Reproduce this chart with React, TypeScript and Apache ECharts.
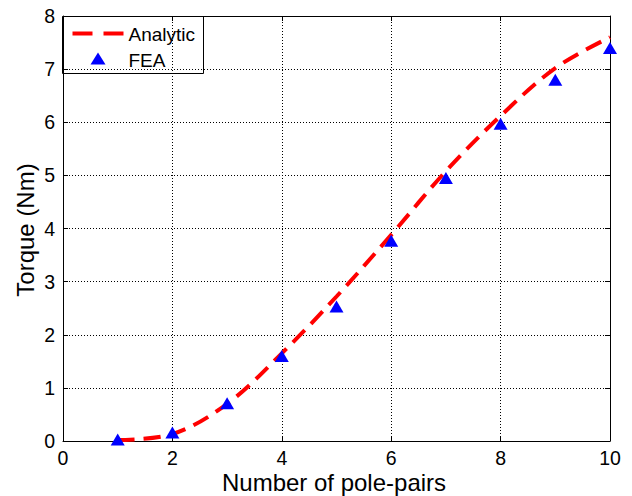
import React, { useEffect, useRef } from "react";
import * as echarts from "echarts";

// Number of pole-pairs
const polePairs = [1, 2, 3, 4, 5, 6, 7, 8, 9, 10];
// Analytic torque prediction (Nm)
const analyticTorque = [0.02, 0.13, 0.7, 1.65, 2.72, 3.88, 5.08, 6.12, 7.02, 7.6];
// Finite element results (Nm)
const feaTorque = [0.03, 0.16, 0.71, 1.6, 2.53, 3.77, 4.95, 5.97, 6.8, 7.4];

const legendNames = ["Analytic", "FEA"];
const xTitle = "Number of pole-pairs";
const yTitle = "Torque (Nm)";

const FONT = "Liberation Sans, Arial, sans-serif";

export default function App() {
  const ref = useRef<HTMLDivElement>(null);

  useEffect(() => {
    if (!ref.current) return;
    const chart = echarts.init(ref.current, null, { renderer: "svg" });

    const gridLine = { show: true, lineStyle: { color: "#000", type: [1, 2] as any, width: 1 } };
    const tickLabel = { color: "#000", fontFamily: FONT, fontSize: 19.5 };
    const frameAxis = {
      axisLine: { show: true, onZero: false, lineStyle: { color: "#000", width: 1 } },
      axisTick: { show: true, inside: true, length: 5, lineStyle: { color: "#000" } },
    };

    chart.setOption({
      animation: false,
      backgroundColor: "#fff",
      grid: {
        left: 63,
        right: 22,
        top: 16,
        bottom: 55,
        containLabel: false,
        outerBoundsMode: "none",
      },
      xAxis: [
        {
          type: "value",
          min: 0,
          max: 10,
          interval: 2,
          ...frameAxis,
          axisLabel: { ...tickLabel, margin: 7 },
          splitLine: gridLine,
        },
        {
          type: "value",
          position: "top",
          min: 0,
          max: 10,
          interval: 2,
          ...frameAxis,
          axisLabel: { show: false },
          splitLine: { show: false },
        },
      ],
      yAxis: [
        {
          type: "value",
          min: 0,
          max: 8,
          interval: 1,
          ...frameAxis,
          axisLabel: { ...tickLabel, margin: 8 },
          splitLine: gridLine,
        },
        {
          type: "value",
          position: "right",
          min: 0,
          max: 8,
          interval: 1,
          ...frameAxis,
          axisLabel: { show: false },
          splitLine: { show: false },
        },
      ],
      graphic: [
        // Horizontal axis title
        {
          type: "text",
          x: 334,
          y: 482,
          style: {
            text: xTitle,
            fill: "#000",
            font: `24px ${FONT}`,
            align: "center",
            verticalAlign: "middle",
          },
        },
        // Vertical axis title
        {
          type: "text",
          x: 25,
          y: 230,
          rotation: Math.PI / 2,
          style: {
            text: yTitle,
            fill: "#000",
            font: `24px ${FONT}`,
            align: "center",
            verticalAlign: "middle",
          },
        },
        // Boxed legend in the top-left corner of the plot
        {
          type: "group",
          left: 62,
          top: 16,
          z: 100,
          children: [
            {
              type: "rect",
              shape: { x: 0, y: 0, width: 141, height: 57 },
              style: { fill: "#fff", stroke: "#000", lineWidth: 1 },
            },
            {
              type: "line",
              shape: { x1: 10, y1: 17, x2: 61, y2: 17 },
              style: { stroke: "#ff0000", lineWidth: 4, lineDash: [20, 11] },
            },
            {
              type: "text",
              style: {
                x: 66,
                y: 18,
                text: legendNames[0],
                fill: "#000",
                font: `19px ${FONT}`,
                verticalAlign: "middle",
              },
            },
            {
              type: "polygon",
              shape: { points: [[35.5, 36], [28, 48], [43, 48]] },
              style: { fill: "#0000ff" },
            },
            {
              type: "text",
              style: {
                x: 66,
                y: 44,
                text: legendNames[1],
                fill: "#000",
                font: `19px ${FONT}`,
                verticalAlign: "middle",
              },
            },
          ],
        },
      ],
      series: [
        {
          name: legendNames[0],
          type: "line",
          smooth: 0.35,
          symbol: "none",
          data: polePairs.map((x, i) => [x, analyticTorque[i]]),
          lineStyle: { color: "#ff0000", width: 4, type: [17, 9] as any },
          itemStyle: { color: "#ff0000" },
          z: 3,
        },
        {
          name: legendNames[1],
          type: "scatter",
          symbol: "triangle",
          symbolSize: [14, 12],
          data: polePairs.map((x, i) => [x, feaTorque[i]]),
          itemStyle: { color: "#0000ff", opacity: 1 },
          z: 4,
        },
      ],
    });

    return () => chart.dispose();
  }, []);

  return (
    <div
      ref={ref}
      style={{ position: "absolute", left: 0, top: 0, width: 632, height: 496 }}
    />
  );
}
